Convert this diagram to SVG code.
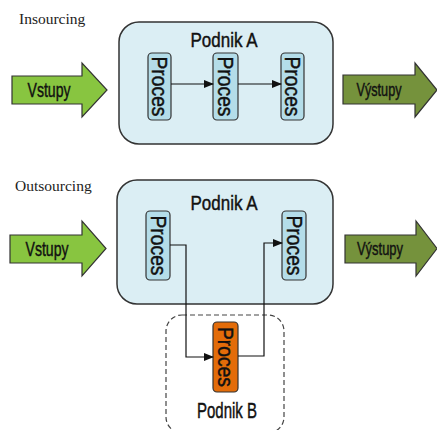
<svg xmlns="http://www.w3.org/2000/svg" width="437" height="430" viewBox="0 0 437 430">
<defs>
<style>
.title{font-family:"Liberation Serif",serif;font-size:15.5px;fill:#222}
.lbl{font-family:"Liberation Sans",Arial,sans-serif;fill:#111;stroke:#111;stroke-width:0.45}
.box{fill:#dbeef4;stroke:#333;stroke-width:1.5}
.proc{fill:#b4dde9;stroke:#333;stroke-width:1.2}
.orange{fill:#e36c09;stroke:#333;stroke-width:1.2}
.in{fill:#88c540;stroke:#333;stroke-width:1.2}
.out{fill:#75923c;stroke:#333;stroke-width:1.2}
.con{fill:none;stroke:#111;stroke-width:1.2}
.dash{fill:none;stroke:#444;stroke-width:1.2;stroke-dasharray:5 3}
</style>
<marker id="ah" markerWidth="10" markerHeight="8" refX="9" refY="4" orient="auto" markerUnits="userSpaceOnUse">
<path d="M0,0 L10,4 L0,8 Z" fill="#111"/>
</marker>
</defs>
<rect width="437" height="430" fill="#fff"/>

<text class="title" x="19" y="24">Insourcing</text>
<text class="title" x="15" y="191">Outsourcing</text>

<g id="podnikA1">
<rect class="box" x="119" y="22" width="214" height="122" rx="20"/>
<text class="lbl" x="224" y="47" font-size="21" text-anchor="middle" textLength="67" lengthAdjust="spacingAndGlyphs">Podnik A</text>
</g>
<g id="vstupy1">
<path class="in" d="M12,76 H82 V63 L107,90 L82,117 V104 H12 Z"/>
<text class="lbl" x="49" y="97" font-size="21" text-anchor="middle" textLength="43" lengthAdjust="spacingAndGlyphs">Vstupy</text>
</g>
<g id="vystupy1">
<path class="out" d="M343,75 H415 V63 L437,90 L415,117 V104 H343 Z"/>
<text class="lbl" x="379" y="96" font-size="19" text-anchor="middle" textLength="45" lengthAdjust="spacingAndGlyphs">Výstupy</text>
</g>
<g id="proc1">
<rect class="proc" x="148" y="53" width="23" height="67" rx="4"/>
<text class="lbl" transform="translate(159.5,86.5) rotate(90)" font-size="22" text-anchor="middle" dominant-baseline="central" textLength="60" lengthAdjust="spacingAndGlyphs">Proces</text>
</g>
<g id="proc2">
<rect class="proc" x="213" y="53" width="25" height="67" rx="4"/>
<text class="lbl" transform="translate(225.5,86.5) rotate(90)" font-size="22" text-anchor="middle" dominant-baseline="central" textLength="60" lengthAdjust="spacingAndGlyphs">Proces</text>
</g>
<g id="proc3">
<rect class="proc" x="281" y="53" width="23" height="67" rx="4"/>
<text class="lbl" transform="translate(292.5,86.5) rotate(90)" font-size="22" text-anchor="middle" dominant-baseline="central" textLength="60" lengthAdjust="spacingAndGlyphs">Proces</text>
</g>

<g id="podnikA2">
<rect class="box" x="117" y="180" width="216" height="124" rx="20"/>
<text class="lbl" x="224" y="210" font-size="21" text-anchor="middle" textLength="67" lengthAdjust="spacingAndGlyphs">Podnik A</text>
</g>
<g id="podnikB">
<rect class="dash" x="166" y="315" width="118" height="118" rx="16"/>
<text class="lbl" x="227" y="418" font-size="22" text-anchor="middle" textLength="60" lengthAdjust="spacingAndGlyphs">Podnik B</text>
</g>
<g id="vstupy2">
<path class="in" d="M10,235 H82 V221 L106,248.5 L82,276 V263 H10 Z"/>
<text class="lbl" x="47" y="256" font-size="21" text-anchor="middle" textLength="43" lengthAdjust="spacingAndGlyphs">Vstupy</text>
</g>
<g id="vystupy2">
<path class="out" d="M345,235 H416 V221 L437,248.5 L416,276 V263 H345 Z"/>
<text class="lbl" x="380" y="255" font-size="19" text-anchor="middle" textLength="46" lengthAdjust="spacingAndGlyphs">Výstupy</text>
</g>
<g id="proc4">
<rect class="proc" x="146" y="211" width="24" height="69" rx="4"/>
<text class="lbl" transform="translate(158,245.5) rotate(90)" font-size="22" text-anchor="middle" dominant-baseline="central" textLength="60" lengthAdjust="spacingAndGlyphs">Proces</text>
</g>
<g id="proc5">
<rect class="proc" x="282" y="211" width="24" height="69" rx="4"/>
<text class="lbl" transform="translate(294,245.5) rotate(90)" font-size="22" text-anchor="middle" dominant-baseline="central" textLength="60" lengthAdjust="spacingAndGlyphs">Proces</text>
</g>
<g id="proc6">
<rect class="orange" x="213" y="322" width="25" height="70" rx="4"/>
<text class="lbl" transform="translate(225.5,357) rotate(90)" font-size="22" text-anchor="middle" dominant-baseline="central" textLength="60" lengthAdjust="spacingAndGlyphs">Proces</text>
</g>

<g id="connectors">
<path class="con" d="M171,84 H213" marker-end="url(#ah)"/>
<path class="con" d="M238,84 H281" marker-end="url(#ah)"/>
<path class="con" d="M170,245 H186 V357 H213" marker-end="url(#ah)"/>
<path class="con" d="M238,356 H264 V243 H282" marker-end="url(#ah)"/>
</g>
</svg>
